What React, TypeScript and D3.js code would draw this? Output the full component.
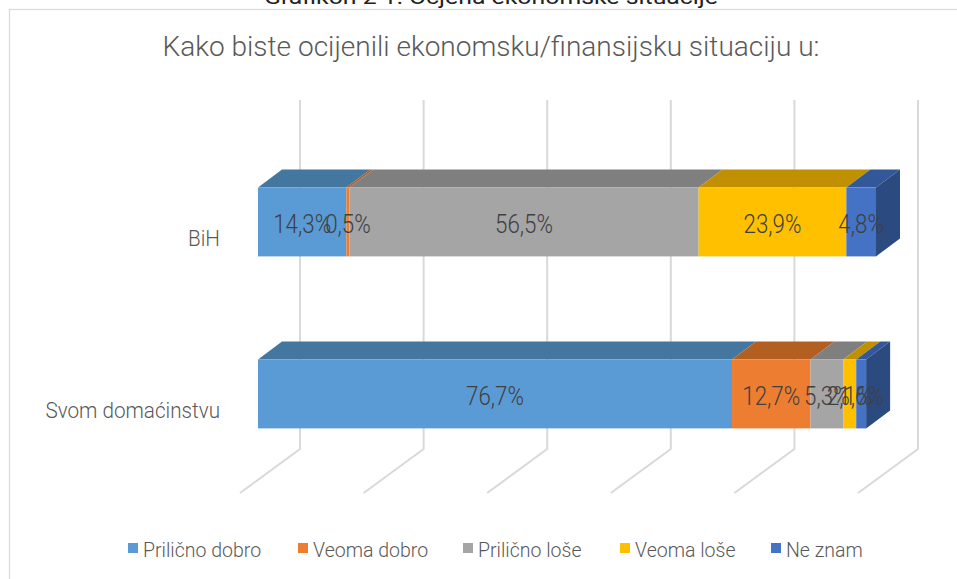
import * as d3 from 'd3';

const categories = ['BiH', 'Svom domaćinstvu'];
const seriesNames = ['Prilično dobro', 'Veoma dobro', 'Prilično loše', 'Veoma loše', 'Ne znam'];
const prilicnoDobro = [14.3, 76.7];
const veomaDobro = [0.5, 12.7];
const prilicnoLose = [56.5, 5.3];
const veomaLose = [23.9, 2.1];
const neZnam = [4.8, 1.6];
const xTicks = [0, 20, 40, 60, 80, 100];

const FRONT = ['#5b9bd5', '#ed7d31', '#a5a5a5', '#ffc000', '#4472c4'];
const TOP = ['#44779f', '#b45f22', '#7f7f7f', '#c09000', '#33589a'];
const SIDE = ['#3a6690', '#9e521e', '#6e6e6e', '#a87d00', '#2b4a80'];

const FONT = 'Roboto, "DejaVu Sans Condensed", sans-serif';
const W = 957;
const H = 579;

// bar depth (front face -> back face)
const DX = 24;
const DY = -18;
// wall and floor relative to the bars' front plane
const WALL_DX = 42;
const WALL_TOP = 100;
const WALL_BOTTOM = 449;
const FLOOR_DX = -18;
const FLOOR_FRONT = 493;

const fmt = (v: number) => v.toFixed(1).replace('.', ',') + '%';

// condensed light text (the original uses a narrow font)
function T({ x, y, sx = 0.86, size, fill, anchor = 'start', children }: any) {
  return (
    <g transform={`translate(${x},${y}) scale(${sx},1)`}>
      <text x={0} y={0} textAnchor={anchor} fontFamily={FONT} fontWeight={300} fontSize={size} fill={fill}>
        {children}
      </text>
    </g>
  );
}

export default function App() {
  const rows = categories.map((c, i) => ({
    category: c,
    'Prilično dobro': prilicnoDobro[i],
    'Veoma dobro': veomaDobro[i],
    'Prilično loše': prilicnoLose[i],
    'Veoma loše': veomaLose[i],
    'Ne znam': neZnam[i],
  }));
  const stacked = d3.stack<any>().keys(seriesNames)(rows);

  const x = d3.scaleLinear().domain([0, 100]).range([258, 876]);
  const y = d3.scaleBand().domain(categories).range([136, 480]).paddingInner(0.6).paddingOuter(0.3);
  const bw = y.bandwidth();

  const poly = (pts: [number, number][]) => 'M' + pts.map((p) => p.join(',')).join('L') + 'Z';

  return (
    <svg width={W} height={H} style={{ position: 'absolute', left: 0, top: 0, background: '#fff' }}>
      <rect x={0} y={0} width={W} height={H} fill="#fff" />
      <text x={491} y={4} textAnchor="middle" fontFamily={FONT} fontSize={21} fill="#222" textLength={454} lengthAdjust="spacingAndGlyphs">
        Grafikon 2 1: Ocjena ekonomske situacije
      </text>
      <rect x={9.5} y={9.5} width={W + 20} height={H + 20} fill="#fff" stroke="#d9d9d9" strokeWidth={1.2} />

      <text x={491} y={56} textAnchor="middle" fontFamily={FONT} fontWeight={300} fontSize={28} fill="#595959" textLength={657} lengthAdjust="spacingAndGlyphs">
        Kako biste ocijenili ekonomsku/finansijsku situaciju u:
      </text>

      {/* back wall and floor gridlines */}
      <g stroke="#d9d9d9" strokeWidth={2} fill="none">
        {xTicks.map((t) => (
          <path
            key={t}
            d={`M${x(t) + WALL_DX},${WALL_TOP}L${x(t) + WALL_DX},${WALL_BOTTOM}L${x(t) + FLOOR_DX},${FLOOR_FRONT}`}
          />
        ))}
      </g>

      {/* bars */}
      {categories.map((c, ci) => {
        const y0 = y(c)!;
        const y1 = y0 + bw;
        return (
          <g key={c}>
            {stacked.map((s, si) => {
              const a = x(s[ci][0]);
              const b = x(s[ci][1]);
              const last = si === stacked.length - 1;
              return (
                <g key={s.key}>
                  <path d={poly([[a, y0], [a + DX, y0 + DY], [b + DX, y0 + DY], [b, y0]])} fill={TOP[si]} />
                  <rect x={a} y={y0} width={b - a} height={bw} fill={FRONT[si]} />
                  {last && (
                    <path d={poly([[b, y0], [b + DX, y0 + DY], [b + DX, y1 + DY], [b, y1]])} fill={SIDE[si]} />
                  )}
                </g>
              );
            })}
          </g>
        );
      })}

      {/* data labels */}
      {categories.map((c, ci) => (
        <g key={c + '-labels'}>
          {stacked.map((s) => (
            <T
              key={s.key}
              x={(x(s[ci][0]) + x(s[ci][1])) / 2}
              y={y(c)! + bw / 2 + 11}
              anchor="middle"
              size={26}
              sx={0.86}
              fill="#404040"
            >
              {fmt(s[ci][1] - s[ci][0])}
            </T>
          ))}
        </g>
      ))}

      {/* category labels */}
      {categories.map((c) => (
        <T key={c} x={220} y={y(c)! + bw / 2 + 24} anchor="end" size={22} sx={0.94} fill="#595959">
          {c}
        </T>
      ))}

      {/* legend */}
      {seriesNames.map((n, i) => {
        const lx = [128, 298, 463, 620, 771][i];
        return (
          <g key={n}>
            <rect x={lx} y={543} width={10} height={10} fill={FRONT[i]} />
            <T x={lx + 15} y={557} size={21} sx={0.93} fill="#595959">
              {n}
            </T>
          </g>
        );
      })}
    </svg>
  );
}
